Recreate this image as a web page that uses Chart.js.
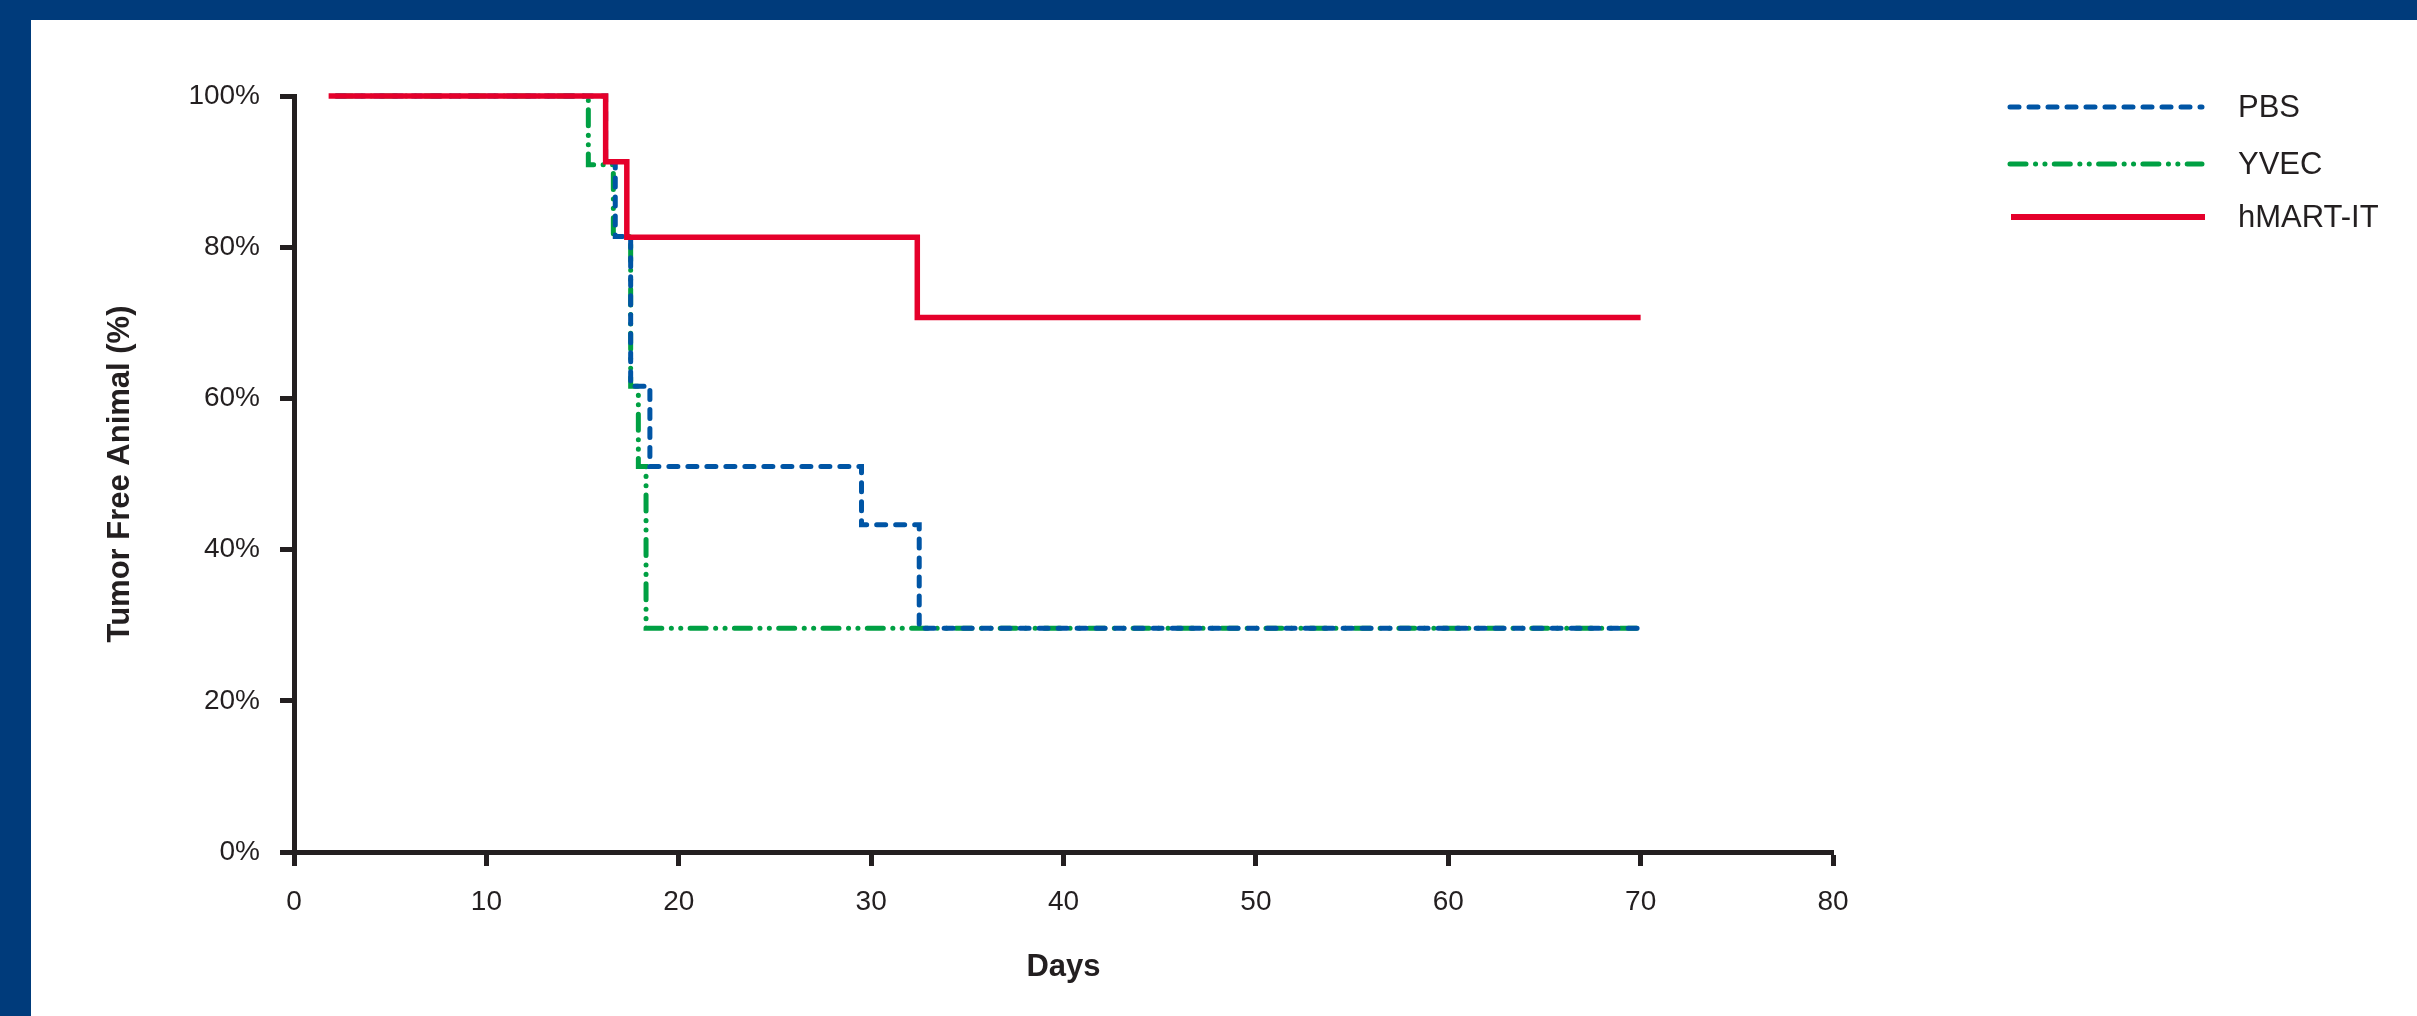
<!DOCTYPE html>
<html>
<head>
<meta charset="utf-8">
<title>Tumor Free Animal</title>
<script src="https://cdn.jsdelivr.net/npm/chart.js@4.4.1/dist/chart.umd.min.js"></script>
<style>
    html, body { margin: 0; padding: 0; background: #ffffff; }
    #frame {
        position: absolute; left: 0; top: 0;
        width: 2417px; height: 1016px;
        background: #003b7b;
    }
    #paper {
        position: absolute; left: 31px; top: 20px;
        width: 2386px; height: 996px;
        background: #ffffff;
    }
    #chartBox {
        position: absolute; left: 0; top: 0;
        width: 2417px; height: 1016px;
    }
</style>
</head>
<body>
<div id="frame"></div>
<div id="paper"></div>
<div id="chartBox"><canvas id="survivalChart" width="2417" height="1016"></canvas></div>

<script>
// Kaplan-Meier style curves (day of each step, level after the step)
const seriesLabels = ['PBS', 'YVEC', 'hMART-IT'];

const pbsDays = [2.2, 16.2, 16.7, 17.5, 18.5, 29.5, 32.5, 70];
const pbsValues = [100, 91.2, 81.4, 61.6, 51.0, 43.3, 29.6, 29.6];

const yvecDays = [2.2, 15.3, 16.6, 17.5, 17.9, 18.3, 70];
const yvecValues = [100, 90.9, 81.4, 61.6, 51.0, 29.6, 29.6];

const hmartDays = [1.8, 16.2, 17.3, 32.4, 70];
const hmartValues = [100, 91.3, 81.3, 70.7, 70.7];

const xTicks = [0, 10, 20, 30, 40, 50, 60, 70, 80];
const yTicks = [0, 20, 40, 60, 80, 100];

const inkColor = '#231f20';
const pbsColor = '#0055a5';
const yvecColor = '#00a043';
const hmartColor = '#e5002b';

const pbsDash = [9, 10];
const yvecDash = [16, 9.5, 0.1, 9.3, 0.1, 9.3];

const fontFamily = '"Liberation Sans", Arial, sans-serif';

function toPoints(days, values) {
    return days.map((d, i) => ({ x: d, y: values[i] }));
}

// legend drawn by hand so the chart area keeps its place
const sideLegend = {
    id: 'sideLegend',
    afterDraw(chart) {
        const ctx = chart.ctx;
        const rows = [
            { label: seriesLabels[0], color: pbsColor, dash: pbsDash, width: 5, cap: 'round', y: 107, x1: 2010, x2: 2202 },
            { label: seriesLabels[1], color: yvecColor, dash: yvecDash, width: 5, cap: 'round', y: 164, x1: 2010, x2: 2202 },
            { label: seriesLabels[2], color: hmartColor, dash: [], width: 6, cap: 'butt', y: 217, x1: 2011, x2: 2205 }
        ];
        ctx.save();
        rows.forEach(r => {
            ctx.beginPath();
            ctx.setLineDash(r.dash);
            ctx.lineCap = r.cap;
            ctx.lineWidth = r.width;
            ctx.strokeStyle = r.color;
            ctx.moveTo(r.x1, r.y);
            ctx.lineTo(r.x2, r.y);
            ctx.stroke();

            ctx.setLineDash([]);
            ctx.fillStyle = inkColor;
            ctx.font = '31px ' + fontFamily;
            ctx.textAlign = 'left';
            ctx.textBaseline = 'middle';
            ctx.fillText(r.label, 2238, r.y + 1);
        });
        ctx.restore();
    }
};

document.addEventListener('DOMContentLoaded', () => {
    const ctx = document.getElementById('survivalChart').getContext('2d');

    new Chart(ctx, {
        type: 'line',
        data: {
            datasets: [
                {
                    label: seriesLabels[2],
                    data: toPoints(hmartDays, hmartValues),
                    borderColor: hmartColor,
                    borderWidth: 5.5,
                    stepped: 'before',
                    pointRadius: 0,
                    fill: false,
                    clip: false,
                    order: 0
                },
                {
                    label: seriesLabels[0],
                    data: toPoints(pbsDays, pbsValues),
                    borderColor: pbsColor,
                    borderWidth: 5,
                    borderDash: pbsDash,
                    borderCapStyle: 'round',
                    stepped: 'before',
                    pointRadius: 0,
                    fill: false,
                    clip: false,
                    order: 1
                },
                {
                    label: seriesLabels[1],
                    data: toPoints(yvecDays, yvecValues),
                    borderColor: yvecColor,
                    borderWidth: 5,
                    borderDash: yvecDash,
                    borderCapStyle: 'round',
                    stepped: 'before',
                    pointRadius: 0,
                    fill: false,
                    clip: false,
                    order: 2
                }
            ]
        },
        options: {
            responsive: false,
            animation: false,
            devicePixelRatio: 1,
            layout: {
                padding: { top: 96, right: 584, bottom: 0, left: 0 }
            },
            plugins: {
                legend: { display: false },
                tooltip: { enabled: false }
            },
            scales: {
                x: {
                    type: 'linear',
                    min: 0,
                    max: 80,
                    afterBuildTicks: scale => { scale.ticks = xTicks.map(v => ({ value: v })); },
                    afterFit: scale => { scale.height = 164; },
                    border: { display: true, width: 5, color: inkColor },
                    grid: {
                        drawOnChartArea: false,
                        drawTicks: true,
                        tickLength: 14,
                        tickWidth: 5,
                        tickColor: inkColor
                    },
                    ticks: {
                        color: inkColor,
                        padding: 19,
                        maxRotation: 0,
                        font: { family: fontFamily, size: 28 }
                    },
                    title: {
                        display: true,
                        text: 'Days',
                        color: inkColor,
                        padding: { top: 0, bottom: 30 },
                        font: { family: fontFamily, size: 31, weight: 'bold' }
                    }
                },
                y: {
                    type: 'linear',
                    min: 0,
                    max: 100,
                    afterBuildTicks: scale => { scale.ticks = yTicks.map(v => ({ value: v })); },
                    afterFit: scale => { scale.width = 294; },
                    border: { display: true, width: 5, color: inkColor },
                    grid: {
                        drawOnChartArea: false,
                        drawTicks: true,
                        tickLength: 14,
                        tickWidth: 5,
                        tickColor: inkColor
                    },
                    ticks: {
                        color: inkColor,
                        padding: 20,
                        callback: v => v + '%',
                        font: { family: fontFamily, size: 28 }
                    },
                    title: {
                        display: true,
                        text: 'Tumor Free Animal (%)',
                        color: inkColor,
                        padding: { top: 102, bottom: 0 },
                        font: { family: fontFamily, size: 31, weight: 'bold' }
                    }
                }
            }
        },
        plugins: [sideLegend]
    });
});
</script>
</body>
</html>
